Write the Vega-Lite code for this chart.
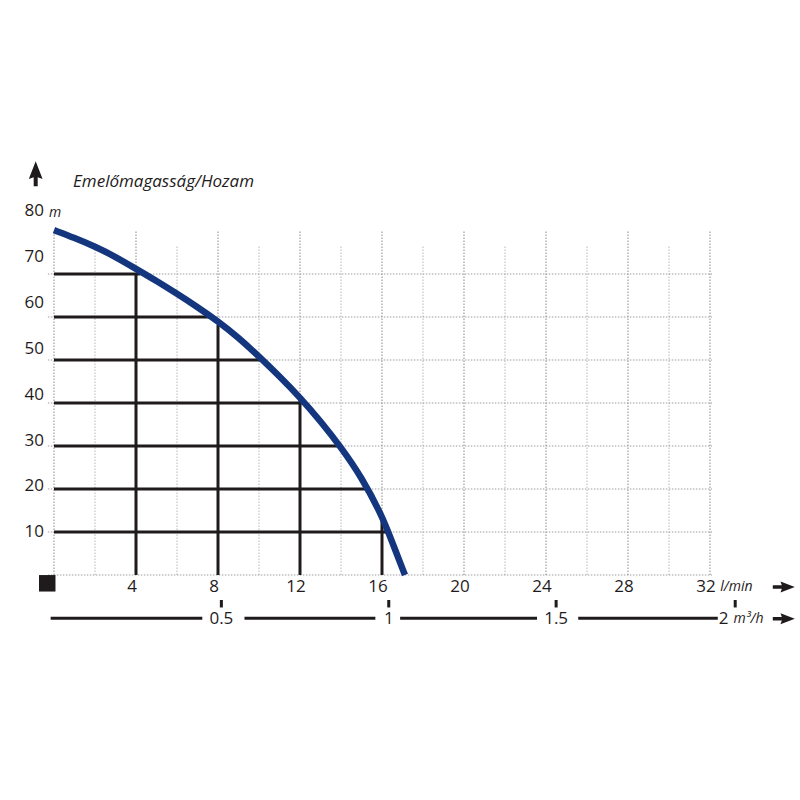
{
  "$schema": "https://vega.github.io/schema/vega-lite/v6.json",
  "width": 656,
  "height": 344,
  "autosize": "none",
  "padding": {"left": 54, "top": 231, "right": 90, "bottom": 225},
  "background": "white",
  "config": {"view": {"stroke": null}, "text": {"font": "Open Sans", "color": "#1f1b1c"}},
  "datasets": {
    "one": [{"n": 1}],
    "curve": [
      {"q": 0, "h": 80.2}, {"q": 1, "h": 78.4}, {"q": 2, "h": 76.4}, {"q": 3, "h": 74.0},
      {"q": 4, "h": 71.2}, {"q": 5, "h": 68.4}, {"q": 6, "h": 65.4}, {"q": 7, "h": 62.3},
      {"q": 8, "h": 59.0}, {"q": 9, "h": 55.2}, {"q": 10, "h": 50.8}, {"q": 11, "h": 46.2},
      {"q": 12, "h": 41.3}, {"q": 13, "h": 35.8}, {"q": 14, "h": 29.7}, {"q": 15, "h": 22.8},
      {"q": 16, "h": 13.8}, {"q": 16.5, "h": 7.6}, {"q": 17.12, "h": 0}
    ],
    "hlines": [
      {"h": 70, "q0": 0, "q": 4.2}, {"h": 60, "q0": 0, "q": 7.6}, {"h": 50, "q0": 0, "q": 10.1}, {"h": 40, "q0": 0, "q": 12.2},
      {"h": 30, "q0": 0, "q": 14.0}, {"h": 20, "q0": 0, "q": 15.33}, {"h": 10, "q0": 0, "q": 16.2}
    ],
    "vlines": [
      {"q": 4, "h0": 0, "h": 70.2}, {"q": 8, "h0": 0, "h": 58.2}, {"q": 12, "h0": 0, "h": 41.6}, {"q": 16, "h0": 0, "h": 13.3}
    ],
    "vgrid": [
      {"q": 0, "lo": 0, "hi": 80, "kind": "major"}, {"q": 2, "lo": 0, "hi": 76.5, "kind": "minor"},
      {"q": 4, "lo": 0, "hi": 80, "kind": "major"}, {"q": 6, "lo": 0, "hi": 76.5, "kind": "minor"},
      {"q": 8, "lo": 0, "hi": 80, "kind": "major"}, {"q": 10, "lo": 0, "hi": 76.5, "kind": "minor"},
      {"q": 12, "lo": 0, "hi": 80, "kind": "major"}, {"q": 14, "lo": 0, "hi": 76.5, "kind": "minor"},
      {"q": 16, "lo": 0, "hi": 80, "kind": "major"}, {"q": 18, "lo": 0, "hi": 76.5, "kind": "minor"},
      {"q": 20, "lo": 0, "hi": 80, "kind": "major"}, {"q": 22, "lo": 0, "hi": 76.5, "kind": "minor"},
      {"q": 24, "lo": 0, "hi": 80, "kind": "major"}, {"q": 26, "lo": 0, "hi": 76.5, "kind": "minor"},
      {"q": 28, "lo": 0, "hi": 80, "kind": "major"}, {"q": 30, "lo": 0, "hi": 76.5, "kind": "minor"},
      {"q": 32, "lo": 0, "hi": 80, "kind": "major"}
    ],
    "hgrid": [
      {"h": 0, "from": -0.3, "to": 32.1}, {"h": 10, "from": -0.3, "to": 32.1}, {"h": 20, "from": -0.3, "to": 32.1},
      {"h": 30, "from": -0.3, "to": 32.1}, {"h": 40, "from": -0.3, "to": 32.1}, {"h": 50, "from": -0.3, "to": 32.1},
      {"h": 60, "from": -0.3, "to": 32.1}, {"h": 70, "from": -0.3, "to": 32.1}
    ],
    "xlabels": [{"q": 4}, {"q": 8}, {"q": 12}, {"q": 16}, {"q": 20}, {"q": 24}, {"q": 28}, {"q": 32}],
    "ylabels": [{"v": 10}, {"v": 20}, {"v": 30}, {"v": 40}, {"v": 50}, {"v": 60}, {"v": 70}, {"v": 80}],
    "m3segs": [{"a": -0.01, "b": 0.443}, {"a": 0.569, "b": 0.96}, {"a": 1.034, "b": 1.443}, {"a": 1.566, "b": 1.983}],
    "m3ticks": [{"t": 0.5}, {"t": 1}, {"t": 1.5}, {"t": 2.035}],
    "m3labels": [{"v": 0.5, "label": "0.5"}, {"v": 1, "label": "1"}, {"v": 1.5, "label": "1.5"}, {"v": 2, "label": "2"}]
  },
  "layer": [
    {
      "data": {"name": "vgrid"},
      "mark": {"type": "rule", "strokeWidth": 1.2, "strokeDash": [1.5, 1.5]},
      "encoding": {
        "x": {"field": "q", "type": "quantitative", "scale": {"domain": [0, 32], "nice": false, "zero": false}, "axis": null},
        "y": {"field": "lo", "type": "quantitative", "scale": {"domain": [0, 80], "nice": false, "zero": false}, "axis": null},
        "y2": {"field": "hi"},
        "color": {"field": "kind", "type": "nominal", "scale": {"domain": ["major", "minor"], "range": ["#9d9d9d", "#c4c4c4"]}, "legend": null}
      }
    },
    {
      "data": {"name": "hgrid"},
      "mark": {"type": "rule", "color": "#9d9d9d", "strokeWidth": 1.2, "strokeDash": [1.5, 1.5]},
      "encoding": {
        "y": {"field": "h", "type": "quantitative", "scale": {"domain": [0, 80], "nice": false, "zero": false}, "axis": null},
        "x": {"field": "from", "type": "quantitative", "scale": {"domain": [0, 32], "nice": false, "zero": false}, "axis": null},
        "x2": {"field": "to"}
      }
    },
    {
      "data": {"name": "hlines"},
      "mark": {"type": "rule", "color": "#1f1b1c", "strokeWidth": 3, "strokeCap": "butt"},
      "encoding": {
        "y": {"field": "h", "type": "quantitative", "scale": {"domain": [0, 80], "nice": false, "zero": false}, "axis": null},
        "x": {"field": "q0", "type": "quantitative", "scale": {"domain": [0, 32], "nice": false, "zero": false}, "axis": null},
        "x2": {"field": "q"}
      }
    },
    {
      "data": {"name": "vlines"},
      "mark": {"type": "rule", "color": "#1f1b1c", "strokeWidth": 3, "strokeCap": "butt"},
      "encoding": {
        "x": {"field": "q", "type": "quantitative", "scale": {"domain": [0, 32], "nice": false, "zero": false}, "axis": null},
        "y": {"field": "h0", "type": "quantitative", "scale": {"domain": [0, 80], "nice": false, "zero": false}, "axis": null},
        "y2": {"field": "h"}
      }
    },
    {
      "data": {"name": "curve"},
      "mark": {"type": "line", "color": "#14367f", "strokeWidth": 6.5, "interpolate": "basis", "strokeCap": "butt"},
      "encoding": {
        "x": {"field": "q", "type": "quantitative", "scale": {"domain": [0, 32], "nice": false, "zero": false}, "axis": null},
        "y": {"field": "h", "type": "quantitative", "scale": {"domain": [0, 80], "nice": false, "zero": false}, "axis": null}
      }
    },
    {
      "data": {"name": "xlabels"},
      "mark": {"type": "text", "fontSize": 17, "baseline": "middle", "align": "center", "dx": -4},
      "encoding": {
        "x": {"field": "q", "type": "quantitative", "scale": {"domain": [0, 32], "nice": false, "zero": false}, "axis": null},
        "y": {"datum": -2.9, "type": "quantitative", "scale": {"domain": [0, 80], "nice": false, "zero": false}, "axis": null},
        "text": {"field": "q", "type": "quantitative"}
      }
    },
    {
      "data": {"name": "one"},
      "mark": {"type": "text", "fontSize": 14, "fontStyle": "italic", "baseline": "middle", "align": "left", "text": "l/min"},
      "encoding": {
        "x": {"datum": 32.5, "type": "quantitative", "scale": {"domain": [0, 32], "nice": false, "zero": false}, "axis": null},
        "y": {"datum": -2.9, "type": "quantitative", "scale": {"domain": [0, 80], "nice": false, "zero": false}, "axis": null}
      }
    },
    {
      "data": {"name": "one"},
      "mark": {"type": "text", "fontSize": 17, "fontStyle": "italic", "baseline": "alphabetic", "align": "left", "text": "Emelőmagasság/Hozam"},
      "encoding": {
        "x": {"datum": 0.93, "type": "quantitative", "scale": {"domain": [0, 32], "nice": false, "zero": false}, "axis": null},
        "y": {"datum": 90.3, "type": "quantitative", "scale": {"domain": [0, 80], "nice": false, "zero": false}, "axis": null}
      }
    },
    {
      "data": {"name": "one"},
      "mark": {"type": "point", "filled": true, "color": "#1f1b1c", "opacity": 1, "size": 625, "shape": "M0,-1L0.55,0.42L0.16,0.28L0.16,1L-0.16,1L-0.16,0.28L-0.55,0.42Z"},
      "encoding": {
        "x": {"datum": -0.893, "type": "quantitative", "scale": {"domain": [0, 32], "nice": false, "zero": false}, "axis": null},
        "y": {"datum": 93.3, "type": "quantitative", "scale": {"domain": [0, 80], "nice": false, "zero": false}, "axis": null}
      }
    },
    {
      "data": {"name": "one"},
      "mark": {"type": "point", "filled": true, "color": "#1f1b1c", "opacity": 1, "size": 484, "shape": "M1,0L-0.3,-0.5L-0.18,-0.16L-1,-0.16L-1,0.16L-0.18,0.16L-0.3,0.5Z"},
      "encoding": {
        "x": {"datum": 35.6, "type": "quantitative", "scale": {"domain": [0, 32], "nice": false, "zero": false}, "axis": null},
        "y": {"datum": -2.8, "type": "quantitative", "scale": {"domain": [0, 80], "nice": false, "zero": false}, "axis": null}
      }
    },
    {
      "data": {"name": "one"},
      "mark": {"type": "point", "filled": true, "color": "#1f1b1c", "opacity": 1, "size": 484, "shape": "M1,0L-0.3,-0.5L-0.18,-0.16L-1,-0.16L-1,0.16L-0.18,0.16L-0.3,0.5Z"},
      "encoding": {
        "x": {"datum": 35.6, "type": "quantitative", "scale": {"domain": [0, 32], "nice": false, "zero": false}, "axis": null},
        "y": {"datum": -10.2, "type": "quantitative", "scale": {"domain": [0, 80], "nice": false, "zero": false}, "axis": null}
      }
    },
    {
      "data": {"name": "one"},
      "mark": {"type": "point", "filled": true, "shape": "square", "color": "#1f1b1c", "opacity": 1, "size": 272},
      "encoding": {
        "x": {"datum": -0.33, "type": "quantitative", "scale": {"domain": [0, 32], "nice": false, "zero": false}, "axis": null},
        "y": {"datum": -1.93, "type": "quantitative", "scale": {"domain": [0, 80], "nice": false, "zero": false}, "axis": null}
      }
    },
    {
      "data": {"name": "ylabels"},
      "mark": {"type": "text", "fontSize": 17, "baseline": "middle", "align": "right"},
      "encoding": {
        "x": {"datum": -0.488, "type": "quantitative", "scale": {"domain": [0, 32], "nice": false, "zero": false}, "axis": null},
        "y": {"field": "v", "type": "quantitative", "scale": {"domain": [0.7, 75.64], "nice": false, "zero": false}, "axis": null},
        "text": {"field": "v", "type": "quantitative"}
      }
    },
    {
      "data": {"name": "one"},
      "mark": {"type": "text", "fontSize": 14, "fontStyle": "italic", "baseline": "middle", "align": "left", "dy": 2, "text": "m"},
      "encoding": {
        "x": {"datum": -0.25, "type": "quantitative", "scale": {"domain": [0, 32], "nice": false, "zero": false}, "axis": null},
        "y": {"datum": 80, "type": "quantitative", "scale": {"domain": [0.7, 75.64], "nice": false, "zero": false}, "axis": null}
      }
    },
    {
      "data": {"name": "m3segs"},
      "mark": {"type": "rule", "color": "#1f1b1c", "strokeWidth": 3, "strokeCap": "butt"},
      "encoding": {
        "x": {"field": "a", "type": "quantitative", "scale": {"domain": [0, 1.9597], "nice": false, "zero": false}, "axis": null},
        "x2": {"field": "b"},
        "y": {"datum": -10.05, "type": "quantitative", "scale": {"domain": [0, 80], "nice": false, "zero": false}, "axis": null}
      }
    },
    {
      "data": {"name": "m3ticks"},
      "mark": {"type": "tick", "orient": "vertical", "color": "#1f1b1c", "thickness": 3, "size": 7.5, "opacity": 1},
      "encoding": {
        "x": {"field": "t", "type": "quantitative", "scale": {"domain": [0, 1.9597], "nice": false, "zero": false}, "axis": null},
        "y": {"datum": -6.68, "type": "quantitative", "scale": {"domain": [0, 80], "nice": false, "zero": false}, "axis": null}
      }
    },
    {
      "data": {"name": "m3labels"},
      "mark": {"type": "text", "fontSize": 17, "baseline": "middle", "align": "center"},
      "encoding": {
        "x": {"field": "v", "type": "quantitative", "scale": {"domain": [0, 1.9597], "nice": false, "zero": false}, "axis": null},
        "y": {"datum": -10.2, "type": "quantitative", "scale": {"domain": [0, 80], "nice": false, "zero": false}, "axis": null},
        "text": {"field": "label", "type": "nominal"}
      }
    },
    {
      "data": {"name": "one"},
      "mark": {"type": "text", "fontSize": 14, "fontStyle": "italic", "baseline": "middle", "align": "left", "text": "m³/h"},
      "encoding": {
        "x": {"datum": 2.03, "type": "quantitative", "scale": {"domain": [0, 1.9597], "nice": false, "zero": false}, "axis": null},
        "y": {"datum": -10.2, "type": "quantitative", "scale": {"domain": [0, 80], "nice": false, "zero": false}, "axis": null}
      }
    }
  ],
  "resolve": {"scale": {"x": "independent", "y": "independent"}}
}
